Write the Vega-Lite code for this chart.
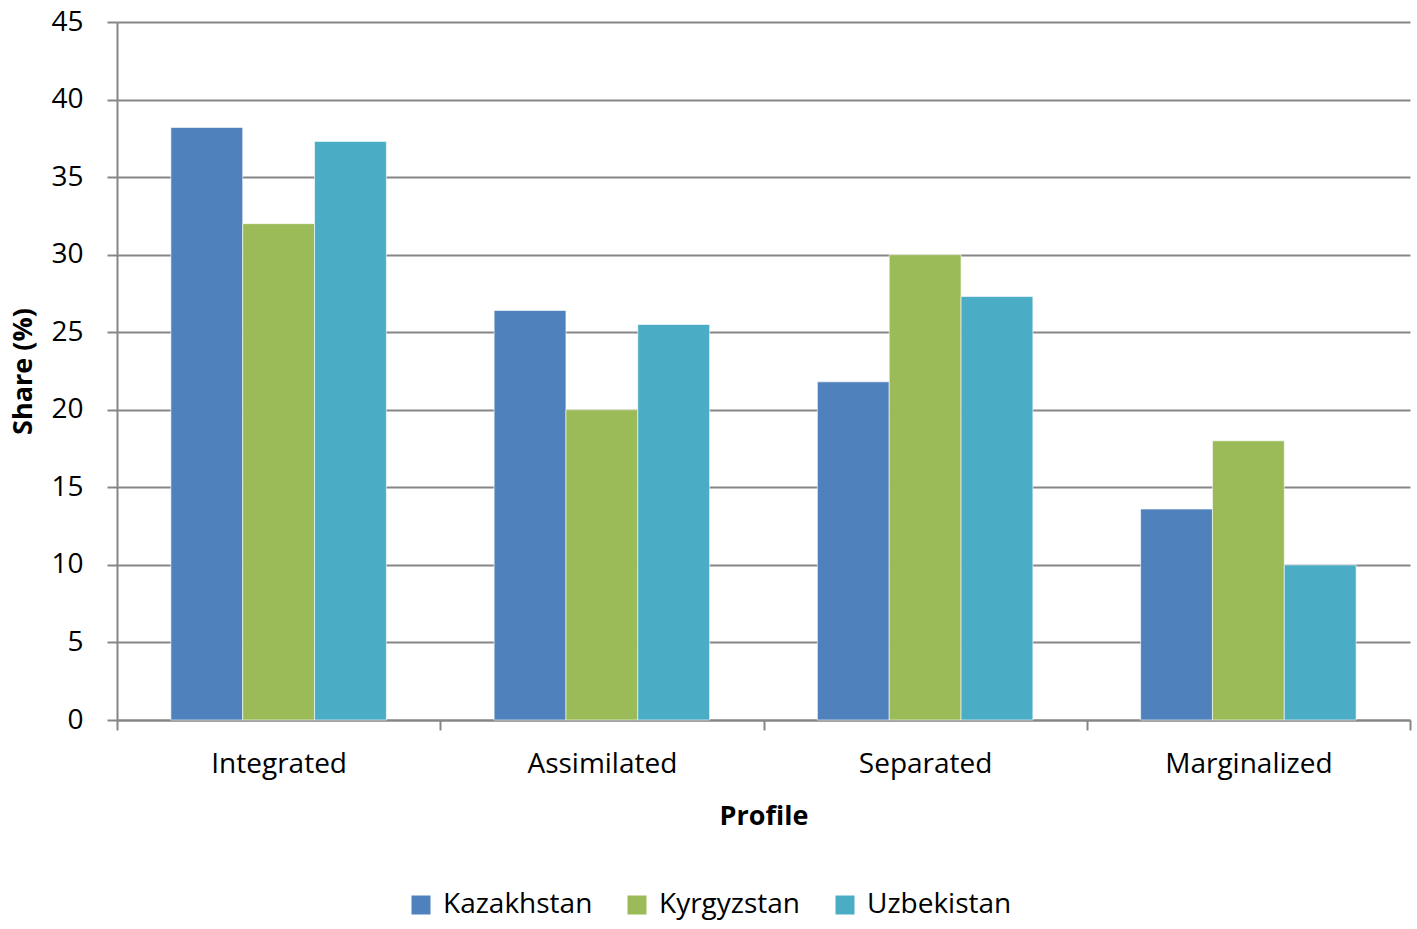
{
  "$schema": "https://vega.github.io/schema/vega-lite/v6.json",
  "autosize": "none",
  "width": 1293,
  "height": 698,
  "padding": {"left": 117, "top": 22, "right": 7, "bottom": 209},
  "background": "white",
  "data": {
    "values": [
      {"Profile": "Integrated", "Country": "Kazakhstan", "Share": 38.2},
      {"Profile": "Integrated", "Country": "Kyrgyzstan", "Share": 32.0},
      {"Profile": "Integrated", "Country": "Uzbekistan", "Share": 37.3},
      {"Profile": "Assimilated", "Country": "Kazakhstan", "Share": 26.4},
      {"Profile": "Assimilated", "Country": "Kyrgyzstan", "Share": 20.0},
      {"Profile": "Assimilated", "Country": "Uzbekistan", "Share": 25.5},
      {"Profile": "Separated", "Country": "Kazakhstan", "Share": 21.8},
      {"Profile": "Separated", "Country": "Kyrgyzstan", "Share": 30.0},
      {"Profile": "Separated", "Country": "Uzbekistan", "Share": 27.3},
      {"Profile": "Marginalized", "Country": "Kazakhstan", "Share": 13.6},
      {"Profile": "Marginalized", "Country": "Kyrgyzstan", "Share": 18.0},
      {"Profile": "Marginalized", "Country": "Uzbekistan", "Share": 10.0}
    ]
  },
  "mark": {"type": "bar", "stroke": "white", "strokeWidth": 0.6},
  "encoding": {
    "x": {
      "field": "Profile",
      "type": "nominal",
      "sort": null,
      "title": "Profile",
      "scale": {"paddingInner": 0, "paddingOuter": 0},
      "axis": {
        "labelAngle": 0,
        "tickBand": "extent",
        "tickSize": 10,
        "labelPadding": 20,
        "titlePadding": 25,
        "grid": false
      }
    },
    "xOffset": {
      "field": "Country",
      "type": "nominal",
      "scale": {"paddingInner": 0, "paddingOuter": 0.75}
    },
    "y": {
      "field": "Share",
      "type": "quantitative",
      "title": "Share (%)",
      "scale": {"domain": [0, 45], "nice": false},
      "axis": {
        "values": [0, 5, 10, 15, 20, 25, 30, 35, 40, 45],
        "tickSize": 10,
        "labelPadding": 24,
        "titlePadding": 13,
        "grid": true
      }
    },
    "color": {
      "field": "Country",
      "type": "nominal",
      "title": null,
      "scale": {
        "domain": ["Kazakhstan", "Kyrgyzstan", "Uzbekistan"],
        "range": ["#4f81bd", "#9bbb59", "#4bacc6"]
      },
      "legend": {
        "orient": "none",
        "direction": "horizontal",
        "legendX": 290,
        "legendY": 869,
        "symbolType": "square",
        "symbolSize": 361,
        "symbolStrokeWidth": 0,
        "labelOffset": 8,
        "columnPadding": 30,
        "labelFontSize": 28,
        "labelFont": "Open Sans",
        "labelColor": "#000000"
      }
    }
  },
  "config": {
    "view": {"stroke": null},
    "axis": {
      "labelFont": "Open Sans",
      "labelFontSize": 28,
      "labelColor": "#000000",
      "titleFont": "Open Sans",
      "titleFontSize": 27,
      "titleFontWeight": "bold",
      "titleColor": "#000000",
      "domainColor": "#868686",
      "domainWidth": 2,
      "tickColor": "#868686",
      "tickWidth": 2,
      "gridColor": "#868686",
      "gridWidth": 2
    }
  }
}
